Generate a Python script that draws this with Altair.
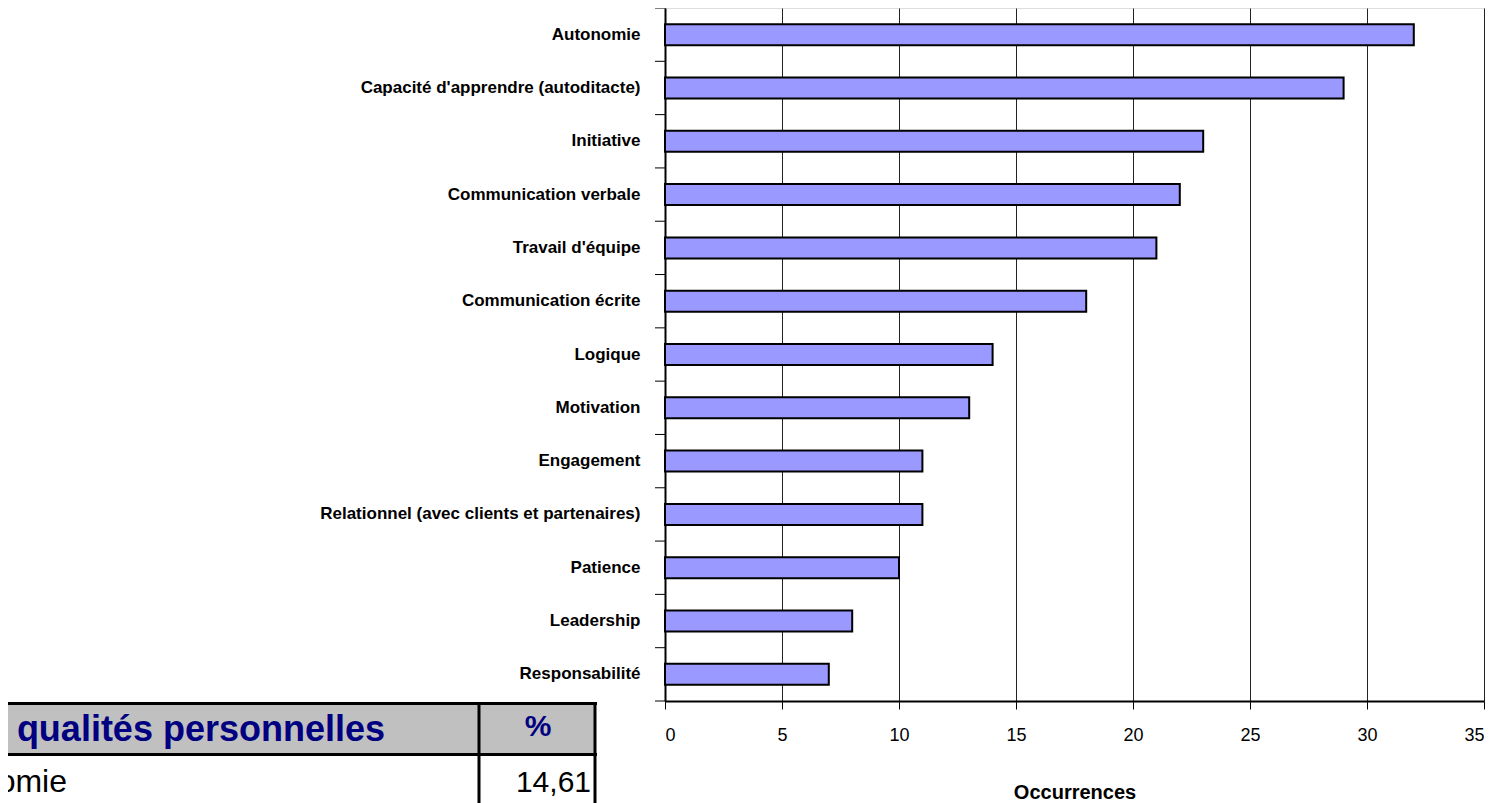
import altair as alt
import pandas as pd

categories = [
    "Autonomie",
    "Capacité d'apprendre (autoditacte)",
    "Initiative",
    "Communication verbale",
    "Travail d'équipe",
    "Communication écrite",
    "Logique",
    "Motivation",
    "Engagement",
    "Relationnel (avec clients et partenaires)",
    "Patience",
    "Leadership",
    "Responsabilité",
]
occurrences = [32, 29, 23, 22, 21, 18, 14, 13, 11, 11, 10, 8, 7]
x_ticks = [0, 5, 10, 15, 20, 25, 30, 35]

table_header = ["qualités personnelles", "%"]
table_row = ["Autonomie", "14,61"]

FONT = "Liberation Sans"
W, H = 819, 693

df = pd.DataFrame({"cat": categories, "occ": occurrences})
one = pd.DataFrame({"k": [0]})

y_axis = alt.Axis(
    title=None, ticks=False, tickSize=0, labelPadding=25,
    labelFont=FONT, labelFontWeight="bold", labelFontSize=17,
    labelColor="black", domainColor="black", domainWidth=2, labelLimit=700,
)
x_axis = alt.Axis(
    values=x_ticks, title="Occurrences", grid=True, gridColor="#222222",
    gridWidth=1, tickSize=8, tickColor="black", tickWidth=1,
    labelPadding=17, labelFont=FONT, labelFontSize=18, labelColor="black",
    titleFont=FONT, titleFontSize=20, titleFontWeight="bold",
    titleColor="black", titlePadding=38, domainColor="black", domainWidth=2,
)

bars = alt.Chart(df).mark_bar(
    size=21, color="#9999FF", stroke="black", strokeWidth=2
).encode(
    x=alt.X("occ:Q", scale=alt.Scale(domain=[0, 35], nice=False), axis=x_axis),
    y=alt.Y("cat:N", sort=categories,
            scale=alt.Scale(paddingInner=0, paddingOuter=0), axis=y_axis),
)

cat_ticks = alt.Chart(df).mark_rule(color="black", strokeWidth=1).encode(
    y=alt.Y("cat:N", sort=categories, bandPosition=0, title=None),
    x=alt.value(-10), x2=alt.value(0),
)
bottom_tick = alt.Chart(one).mark_rule(color="black", strokeWidth=1).encode(
    y=alt.value(H), x=alt.value(-10), x2=alt.value(0)
)

# partial table at bottom-left
hdr_bg = alt.Chart(one).mark_rect(color="#C0C0C0").encode(
    x=alt.value(-665), x2=alt.value(-69), y=alt.value(696), y2=alt.value(745)
)
line_top = alt.Chart(one).mark_rule(color="black", strokeWidth=3).encode(
    x=alt.value(-665), x2=alt.value(-68), y=alt.value(695.5)
)
line_mid = alt.Chart(one).mark_rule(color="black", strokeWidth=3).encode(
    x=alt.value(-665), x2=alt.value(-68), y=alt.value(746.5)
)
line_v1 = alt.Chart(one).mark_rule(color="black", strokeWidth=3).encode(
    x=alt.value(-186), y=alt.value(694), y2=alt.value(800)
)
line_v2 = alt.Chart(one).mark_rule(color="black", strokeWidth=3).encode(
    x=alt.value(-70), y=alt.value(694), y2=alt.value(800)
)
t_hdr = alt.Chart(one).mark_text(
    font=FONT, fontSize=36, fontWeight="bold", color="#000080",
    align="right", baseline="alphabetic"
).encode(x=alt.value(-280), y=alt.value(733), text=alt.value(table_header[0]))
t_pct = alt.Chart(one).mark_text(
    font=FONT, fontSize=30, fontWeight="bold", color="#000080",
    align="center", baseline="alphabetic"
).encode(x=alt.value(-127), y=alt.value(728), text=alt.value(table_header[1]))
t_row = alt.Chart(one).mark_text(
    font=FONT, fontSize=32, color="black", align="right", baseline="alphabetic"
).encode(x=alt.value(-598), y=alt.value(784), text=alt.value(table_row[0]))
t_val = alt.Chart(one).mark_text(
    font=FONT, fontSize=30, color="black", align="right", baseline="alphabetic"
).encode(x=alt.value(-74), y=alt.value(784), text=alt.value(table_row[1]))

chart = alt.layer(
    bars, cat_ticks, bottom_tick,
    hdr_bg, line_top, line_mid, line_v1, line_v2, t_hdr, t_pct, t_row, t_val,
).properties(
    width=W, height=H,
    autosize=alt.AutoSizeParams(type="none"),
    padding={"left": 657, "top": 0, "right": 18, "bottom": 102},
).configure_view(
    stroke="#808080", strokeWidth=2
).configure(
    font=FONT, background="white"
)

chart.save("out.html", embed_options={"renderer": "svg", "actions": False})
